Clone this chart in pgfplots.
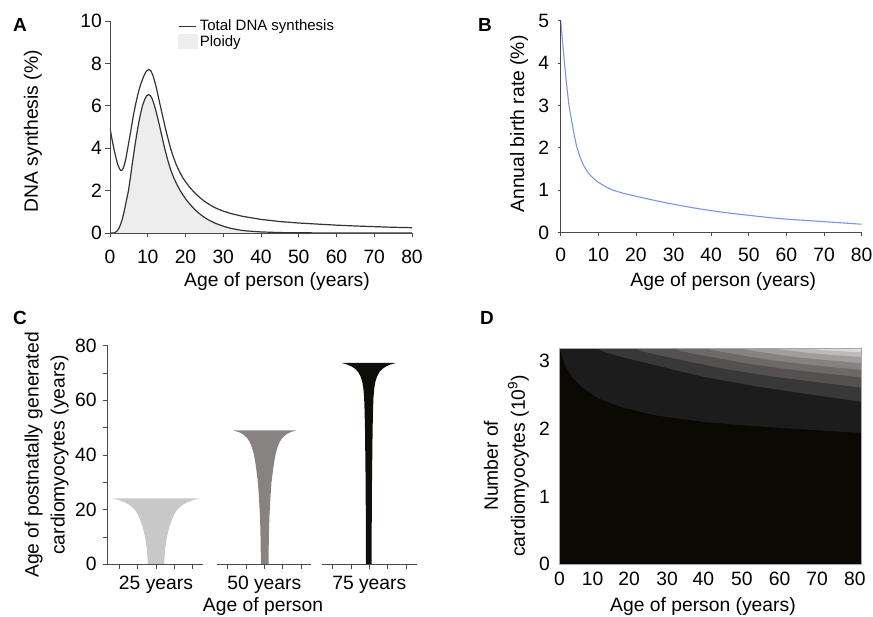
\documentclass[border=0pt]{standalone}
\usepackage{fontspec}
\setmainfont{Liberation Sans}
\usepackage{pgfplots}
\pgfplotsset{compat=1.18}
\definecolor{axcol}{HTML}{4A4A4A}
\definecolor{lncol}{HTML}{333333}
\definecolor{bluel}{RGB}{120,150,225}
\definecolor{cA}{HTML}{C8C8C8}
\definecolor{cB}{HTML}{878383}
\definecolor{cC}{HTML}{100E0A}
\definecolor{d0}{HTML}{0B0904}
\definecolor{d1}{HTML}{1C1C1C}
\definecolor{d2}{HTML}{393838}
\definecolor{d3}{HTML}{545150}
\definecolor{d4}{HTML}{6C6969}
\definecolor{d5}{HTML}{858282}
\definecolor{d6}{HTML}{A09D9D}
\definecolor{d7}{HTML}{BCBABA}
\definecolor{d8}{HTML}{D8D7D7}
\definecolor{d9}{HTML}{EFEFEF}
\pgfplotsset{
  every axis/.append style={
    scale only axis,
    anchor=south west,
    font=\fontsize{19.3}{23}\selectfont,
    /pgf/number format/assume math mode=true,
    ticklabel style={font=\fontsize{19.3}{23}\selectfont},
    axis line style={axcol, line width=0.9pt},
    tick style={axcol, line width=0.9pt},
    tick align=outside,
    major tick length=4.5pt,
    minor tick length=4.5pt,
    axis on top,
  }
}
\begin{document}
\begin{tikzpicture}
\path[use as bounding box] (0pt,0pt) rectangle (873pt,617pt);
% ---------- Panel A ----------
\begin{axis}[at={(110pt,384pt)}, width=302pt, height=212pt,
  xmin=0, xmax=80, ymin=0, ymax=10,
  axis x line*=bottom, axis y line*=left,
  xtick={0,10,...,80}, ytick={0,2,...,10},
  xticklabel style={yshift=-9pt},
  xlabel={Age of person (years)}, ylabel={DNA synthesis (\%)},
  xlabel style={at={(axis description cs:0.553,-0.231)}, anchor=center},
  ylabel style={at={(axis description cs:-0.255,0.48)}, anchor=center},
  legend style={at={(axis description cs:0.215,1.025)}, anchor=north west, draw=none, fill=none,
    font=\fontsize{15}{17}\selectfont, row sep=-1pt},
  legend cell align=left]
\addplot[fill=black!7, draw=none, forget plot] coordinates {
(0,0)(0.9,0)(1.3,0.02)(1.8,0.08)(2.3,0.2)(2.8,0.4)(3.3,0.68)(3.8,1.05)(4.3,1.5)(4.9,2.0)(5.3,2.5)(5.7,3.0)(6.1,3.5)(6.5,4.0)(6.9,4.45)(7.4,5.0)(8,5.55)(8.6,6.0)(9.2,6.3)(9.7,6.47)(10.2,6.53)(10.7,6.48)(11.2,6.32)(11.8,6.0)(12.4,5.6)(13.0,5.15)(13.7,4.6)(14.4,4.05)(15.2,3.5)(16.0,3.02)(16.9,2.6)(17.8,2.26)(18.7,1.97)(19.6,1.72)(20.5,1.5)(21.5,1.29)(22.5,1.1)(23.5,0.94)(24.5,0.8)(25.5,0.68)(26.5,0.58)(28,0.45)(30,0.32)(32,0.22)(34,0.15)(36,0.1)(40,0.05)(45,0.02)(50,0.01)(60,0)(80,0)} \closedcycle;
\addplot[lncol, line width=1.2pt, forget plot] coordinates {
(0,0)(0.9,0)(1.3,0.02)(1.8,0.08)(2.3,0.2)(2.8,0.4)(3.3,0.68)(3.8,1.05)(4.3,1.5)(4.9,2.0)(5.3,2.5)(5.7,3.0)(6.1,3.5)(6.5,4.0)(6.9,4.45)(7.4,5.0)(8,5.55)(8.6,6.0)(9.2,6.3)(9.7,6.47)(10.2,6.53)(10.7,6.48)(11.2,6.32)(11.8,6.0)(12.4,5.6)(13.0,5.15)(13.7,4.6)(14.4,4.05)(15.2,3.5)(16.0,3.02)(16.9,2.6)(17.8,2.26)(18.7,1.97)(19.6,1.72)(20.5,1.5)(21.5,1.29)(22.5,1.1)(23.5,0.94)(24.5,0.8)(25.5,0.68)(26.5,0.58)(28,0.45)(30,0.32)(32,0.22)(34,0.15)(36,0.1)(40,0.05)(45,0.02)(50,0.01)(60,0)(80,0)};
\addplot[lncol, line width=1.2pt, forget plot] coordinates {
(0,4.95)(0.5,4.45)(1,4.0)(1.5,3.6)(2,3.25)(2.5,3.03)(2.9,2.95)(3.3,2.98)(3.7,3.15)(4.2,3.5)(4.7,4.0)(5.5,4.8)(6.2,5.55)(7,6.25)(7.6,6.7)(8.2,7.05)(9,7.42)(9.6,7.62)(10.2,7.71)(10.8,7.66)(11.4,7.42)(12,7.05)(12.6,6.6)(13.2,6.1)(13.9,5.55)(14.6,5.0)(15.3,4.5)(16.0,4.02)(16.8,3.58)(17.6,3.2)(18.5,2.86)(19.3,2.6)(20.2,2.37)(21,2.18)(22,1.98)(23,1.8)(24,1.64)(25,1.5)(26,1.38)(27,1.27)(28,1.18)(30,1.03)(32,0.92)(35,0.79)(40,0.64)(45,0.54)(50,0.47)(55,0.42)(60,0.37)(65,0.33)(70,0.30)(75,0.27)(80,0.25)};
\addlegendimage{legend image code/.code={\draw[lncol, line width=1pt] (0pt,0pt) -- (17pt,0pt);}}
\addlegendentry{Total DNA synthesis}
\addlegendimage{legend image code/.code={\fill[black!7] (0pt,-7pt) rectangle (19pt,7pt);}}
\addlegendentry{Ploidy}
\end{axis}
% ---------- Panel B ----------
\begin{axis}[at={(560.7pt,384.3pt)}, width=301pt, height=212pt,
  xmin=0, xmax=80, ymin=0, ymax=5,
  axis x line*=bottom, axis y line*=left,
  xtick={0,10,...,80}, ytick={0,1,...,5},
  xticklabel style={yshift=-9pt}, yticklabel style={xshift=-5pt},
  major tick length=3pt,
  xlabel={Age of person (years)}, ylabel={Annual birth rate (\%)},
  xlabel style={at={(axis description cs:0.54,-0.231)}, anchor=center},
  ylabel style={at={(axis description cs:-0.138,0.513)}, anchor=center}]
\addplot[bluel, line width=1.1pt] coordinates {
(0,5)(0.3,4.7)(0.6,4.4)(1,4.0)(1.5,3.55)(2.2,3.0)(3,2.6)(3.6,2.3)(4.2,2.05)(5,1.82)(6,1.6)(7,1.45)(8,1.34)(9,1.26)(10,1.19)(12,1.08)(14,1.0)(17,0.92)(20,0.86)(25,0.76)(30,0.67)(35,0.59)(40,0.52)(45,0.46)(50,0.41)(55,0.36)(60,0.32)(65,0.29)(70,0.26)(75,0.23)(80,0.2)};
\end{axis}
% ---------- Panel C ----------
\begin{axis}[at={(107.7pt,52.7pt)}, width=310pt, height=218.6pt,
  xmin=0, xmax=310, ymin=0, ymax=80, clip=false,
  axis x line*=bottom, axis y line*=left,
  x axis line style={draw=none},
  xtick={11.6,30,48.3,66.6,85,120,138.3,156.6,175,193.3,225,243.3,261.6,280,298.3},
  xticklabels={{},{},25 years,{},{},{},{},50 years,{},{},{},{},75 years,{},{}},
  xticklabel style={yshift=-4pt}, yticklabel style={xshift=-3pt},
  ytick={0,20,...,80}, minor y tick num=1,
  xlabel={Age of person}, ylabel={Age of postnatally generated\\cardiomyocytes (years)},
  xlabel style={at={(axis description cs:0.501,-0.194)}, anchor=center},
  ylabel style={at={(axis description cs:-0.197,0.5)}, anchor=center, align=center, font=\fontsize{19.3}{26}\selectfont}]
\addplot[fill=cA, draw=none] coordinates {
(40.1,0)(39.7,3)(39.0,6)(37.8,9)(36.1,12)(34.7,14)(32.7,16)(30.5,18)(28.1,19.5)(24.8,20.8)(21.3,21.8)(16.8,22.7)(12.8,23.3)(8.8,23.8)(5.3,24.1)
(91.3,24.1)(87.8,23.8)(83.8,23.3)(79.8,22.7)(75.3,21.8)(71.8,20.8)(68.5,19.5)(66.1,18)(63.9,16)(61.9,14)(60.5,12)(58.8,9)(57.6,6)(56.9,3)(56.5,0)} -- cycle;
\addplot[fill=cB, draw=none] coordinates {
(153.2,0)(153.0,6)(152.7,12.5)(152.2,18)(151.2,24.7)(150.2,30)(148.7,34.4)(147.5,37.5)(146.0,40.5)(144.0,43)(142.0,44.8)(139.5,46.2)(135.3,47.6)(131.0,48.4)(125.3,49)
(188.7,49)(183.0,48.4)(178.7,47.6)(174.5,46.2)(172.0,44.8)(170.0,43)(168.0,40.5)(166.5,37.5)(165.3,34.4)(163.8,30)(162.8,24.7)(161.8,18)(161.3,12.5)(161.0,6)(160.8,0)} -- cycle;
\addplot[fill=cC, draw=none] coordinates {
(258.3,0)(258.2,12.5)(257.9,30.8)(257.3,49)(256.9,56)(256.4,61.2)(255.6,64.5)(254.6,66.7)(252.9,68.7)(250.6,70.3)(247.6,71.5)(243.9,72.4)(239.6,73.1)(233.9,73.7)
(288.3,73.7)(282.6,73.1)(278.3,72.4)(274.6,71.5)(271.6,70.3)(269.3,68.7)(267.6,66.7)(266.6,64.5)(265.8,61.2)(265.3,56)(264.9,49)(264.3,30.8)(264.0,12.5)(263.9,0)} -- cycle;
\addplot[axcol, line width=0.9pt] coordinates {(0,0)(95.3,0)};
\addplot[axcol, line width=0.9pt] coordinates {(109.3,0)(203.3,0)};
\addplot[axcol, line width=0.9pt] coordinates {(214.3,0)(309,0)};
\end{axis}
% ---------- Panel D ----------
\begin{axis}[at={(559.3pt,52.7pt)}, width=302.4pt, height=216pt,
  xmin=0, xmax=80, ymin=0, ymax=3.19,
  axis line style={black!35, line width=0.8pt},
  major tick length=0pt,
  xtick={0.05,8.8,18.5,28.5,38.1,48.3,58.3,68.2,78.2},
  xticklabels={0,10,20,30,40,50,60,70,80},
  ytick={0,1,2,3},
  xticklabel style={yshift=-4pt}, yticklabel style={xshift=-6pt},
  xlabel={Age of person (years)}, ylabel={Number of\\cardiomyocytes (10\textsuperscript{9})},
  xlabel style={at={(axis description cs:0.475,-0.196)}, anchor=center},
  ylabel style={at={(axis description cs:-0.175,0.456)}, anchor=center, align=center, font=\fontsize{19.3}{27}\selectfont}]
\addplot[fill=d0, draw=none] coordinates {(0,0)(80,0)(80,3.19)(0,3.19)} -- cycle;
\addplot[fill=d1, draw=none] coordinates {(0,3.19)(0.3,3.15)(0.63,3.11)(1.5,2.94)(3.3,2.77)(5.9,2.62)(10.3,2.45)(16.5,2.32)(25.3,2.20)(38.5,2.10)(51.8,2.04)(65,1.99)(80,1.94)(80,3.19)} -- cycle;
\addplot[fill=d2, draw=none] coordinates {(9.9,3.19)(12.0,3.135)(16.9,3.056)(27.4,2.914)(37.9,2.771)(52.0,2.629)(66.0,2.511)(80,2.40)(80,3.19)} -- cycle;
\addplot[fill=d3, draw=none] coordinates {(20,3.19)(21.8,3.149)(26,3.091)(35,2.987)(44,2.883)(56,2.778)(68,2.691)(80,2.61)(80,3.19)} -- cycle;
\addplot[fill=d4, draw=none] coordinates {(30,3.19)(31.5,3.160)(35,3.117)(42.5,3.040)(50,2.962)(60,2.885)(70,2.820)(80,2.76)(80,3.19)} -- cycle;
\addplot[fill=d5, draw=none] coordinates {(39,3.19)(40.2,3.168)(43.1,3.136)(49.25,3.078)(55.4,3.020)(63.6,2.963)(71.8,2.915)(80,2.87)(80,3.19)} -- cycle;
\addplot[fill=d6, draw=none] coordinates {(48,3.19)(49,3.175)(51.2,3.153)(56,3.113)(60.8,3.073)(67.2,3.034)(73.6,3.001)(80,2.97)(80,3.19)} -- cycle;
\addplot[fill=d7, draw=none] coordinates {(57,3.19)(57.7,3.181)(59.3,3.168)(62.75,3.145)(66.2,3.121)(70.8,3.098)(75.4,3.078)(80,3.06)(80,3.19)} -- cycle;
\addplot[fill=d8, draw=none] coordinates {(65,3.19)(65.45,3.186)(66.5,3.180)(68.75,3.169)(71,3.158)(74,3.147)(77,3.138)(80,3.13)(80,3.19)} -- cycle;
\addplot[fill=d9, draw=none] coordinates {(74,3.19)(76,3.183)(78,3.176)(80,3.17)(80,3.19)} -- cycle;
\end{axis}
% ---------- Panel letters ----------
\node[font=\bfseries\fontsize{19}{20}\selectfont] at (20pt,592pt) {A};
\node[font=\bfseries\fontsize{19}{20}\selectfont] at (485pt,592pt) {B};
\node[font=\bfseries\fontsize{19}{20}\selectfont] at (20pt,298.7pt) {C};
\node[font=\bfseries\fontsize{19}{20}\selectfont] at (487pt,298.7pt) {D};
\end{tikzpicture}
\end{document}
